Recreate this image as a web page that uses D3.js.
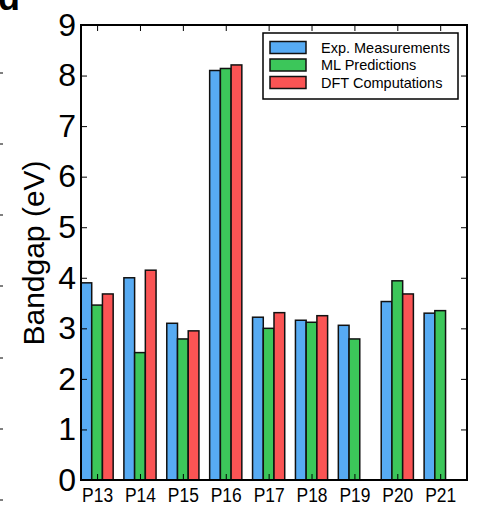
<!DOCTYPE html>
<html><head><meta charset="utf-8">
<script src="https://cdn.jsdelivr.net/npm/d3@7"></script>
<style>body{margin:0;background:#fff}svg{display:block;font-family:"Liberation Sans",Arial,sans-serif}</style>
</head><body><svg id="c" width="477" height="515"></svg>
<script>
const categories = ["P13","P14","P15","P16","P17","P18","P19","P20","P21"];
const expMeasurements = [3.90, 4.00, 3.10, 8.10, 3.22, 3.16, 3.06, 3.53, 3.30];
const mlPredictions   = [3.46, 2.52, 2.79, 8.14, 3.00, 3.12, 2.79, 3.94, 3.35];
const dftComputations = [3.68, 4.15, 2.95, 8.21, 3.31, 3.25, null, 3.68, null];
const seriesNames = ["Exp. Measurements","ML Predictions","DFT Computations"];
const seriesColors = ["#57abf3","#3cc65a","#fa5454"];
const yTicks = [0,1,2,3,4,5,6,7,8,9];

const svg = d3.select("#c");
const L=81, R=467, T=25, B=480;
const x = d3.scaleBand().domain(categories).range([L,R]).paddingInner(0).paddingOuter(0);
const y = d3.scaleLinear().domain([0,9]).range([B,T]);
const bw = x.bandwidth()*0.25;
const series = [expMeasurements, mlPredictions, dftComputations];

// neighbour panel remnants
svg.append("text").attr("x",-2).attr("y",10).attr("font-size",36).attr("font-weight","bold").text("d");
svg.selectAll("line.nb").data([73,144,215,286,358,429,500]).enter().append("line")
  .attr("x1",0).attr("x2",3).attr("y1",d=>d).attr("y2",d=>d).attr("stroke","#000").attr("stroke-width",1);

// bars
series.forEach((vals,si)=>{
  svg.append("g").selectAll("rect").data(categories.map((c,i)=>({c,v:vals[i]})).filter(d=>d.v!=null))
    .enter().append("rect")
    .attr("x",d=>x(d.c)+si*bw).attr("width",bw)
    .attr("y",d=>y(d.v)).attr("height",d=>B-y(d.v))
    .attr("fill",seriesColors[si]).attr("stroke","#111").attr("stroke-width",1.5);
});

const tickPos = c => x(c)+1.5*bw;
const xs = d3.scaleOrdinal().domain(categories).range(categories.map(tickPos));
// axes
const gl = svg.append("g").attr("transform",`translate(${L},0)`)
  .call(d3.axisLeft(y).tickValues(yTicks).tickFormat(d3.format("d")).tickSizeInner(-6).tickSizeOuter(0).tickPadding(5));
gl.selectAll("text").attr("font-size",32).attr("font-family","Liberation Sans, Arial").attr("fill","#000");
const gr = svg.append("g").attr("transform",`translate(${R},0)`)
  .call(d3.axisRight(y).tickValues(yTicks).tickFormat("").tickSizeInner(-6).tickSizeOuter(0));
const gb = svg.append("g").attr("transform",`translate(0,${B})`)
  .call(d3.axisBottom(xs).tickSizeInner(-6).tickSizeOuter(0).tickPadding(8));
gb.selectAll("text").attr("font-size",20).attr("font-family","Liberation Sans, Arial").attr("fill","#000")
  .attr("textLength",31).attr("lengthAdjust","spacingAndGlyphs");
const gt = svg.append("g").attr("transform",`translate(0,${T})`)
  .call(d3.axisTop(xs).tickFormat("").tickSizeInner(-6).tickSizeOuter(0));
svg.selectAll(".domain").remove();
svg.selectAll(".tick line").attr("stroke","#000").attr("stroke-width",1);
svg.append("rect").attr("x",L).attr("y",T).attr("width",R-L).attr("height",B-T)
  .attr("fill","none").attr("stroke","#000").attr("stroke-width",2);

// y label
svg.append("text").attr("transform","translate(44,253) rotate(-90)").attr("text-anchor","middle")
  .attr("font-size",30).text("Bandgap (eV)");

// legend
const lg = svg.append("g");
lg.append("rect").attr("x",263).attr("y",33).attr("width",195).attr("height",66)
  .attr("fill","#fff").attr("stroke","#000").attr("stroke-width",1.5);
seriesNames.forEach((n,i)=>{
  lg.append("rect").attr("x",270).attr("y",41.5+i*17.5).attr("width",36).attr("height",12)
    .attr("fill",seriesColors[i]).attr("stroke","#111").attr("stroke-width",1.5);
  lg.append("text").attr("x",321).attr("y",52.5+i*17.5).attr("font-size",14.5).text(n);
});
</script></body></html>
